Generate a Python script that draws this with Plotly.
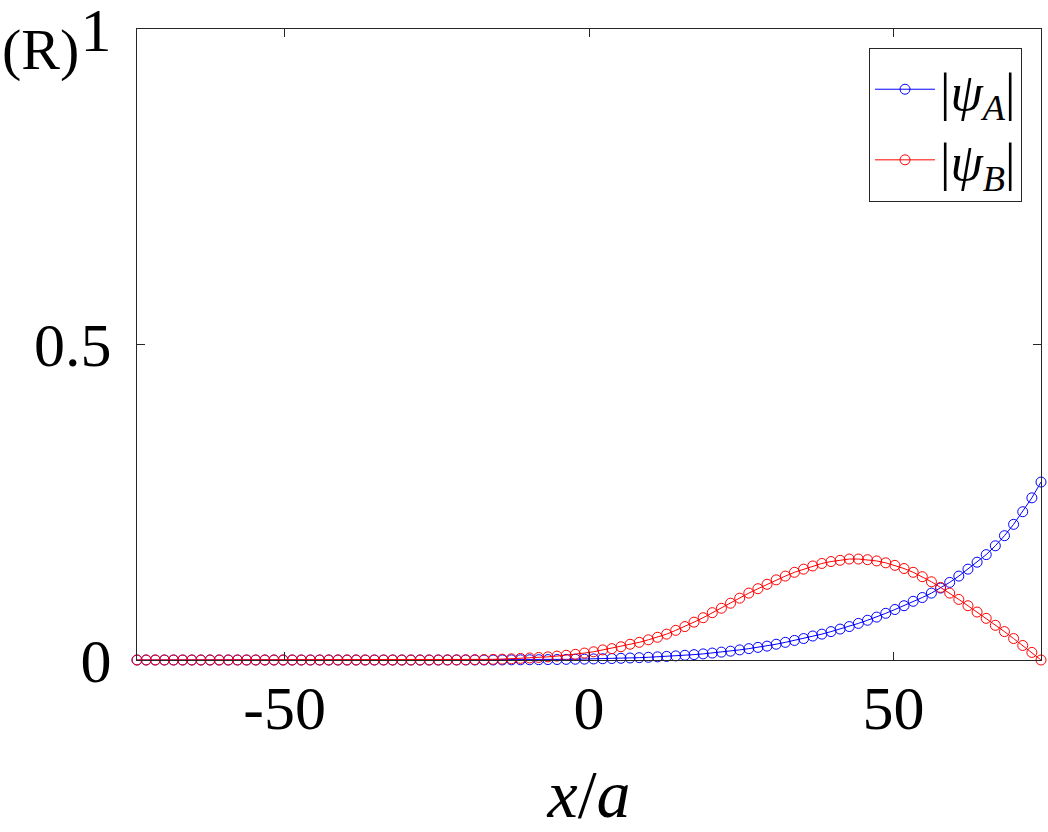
import plotly.graph_objects as go

# lattice positions x/a
x_pos = [-74.25, -72.75, -71.25, -69.75, -68.25, -66.75, -65.25, -63.75, -62.25, -60.75,
         -59.25, -57.75, -56.25, -54.75, -53.25, -51.75, -50.25, -48.75, -47.25, -45.75,
         -44.25, -42.75, -41.25, -39.75, -38.25, -36.75, -35.25, -33.75, -32.25, -30.75,
         -29.25, -27.75, -26.25, -24.75, -23.25, -21.75, -20.25, -18.75, -17.25, -15.75,
         -14.25, -12.75, -11.25, -9.75, -8.25, -6.75, -5.25, -3.75, -2.25, -0.75,
         0.75, 2.25, 3.75, 5.25, 6.75, 8.25, 9.75, 11.25, 12.75, 14.25,
         15.75, 17.25, 18.75, 20.25, 21.75, 23.25, 24.75, 26.25, 27.75, 29.25,
         30.75, 32.25, 33.75, 35.25, 36.75, 38.25, 39.75, 41.25, 42.75, 44.25,
         45.75, 47.25, 48.75, 50.25, 51.75, 53.25, 54.75, 56.25, 57.75, 59.25,
         60.75, 62.25, 63.75, 65.25, 66.75, 68.25, 69.75, 71.25, 72.75, 74.25]

psi_A = [0, 0, 0, 0, 0, 0, 0, 0, 0, 0,
         0, 0, 0, 0, 0, 0, 0, 0, 0, 0,
         0, 0, 0, 0, 0, 0, 0, 0, 0, 0,
         0, 0, 0, 0, 0, 0, 0, 0, 0, 0,
         0.0001, 0.0002, 0.0003, 0.0004, 0.0005, 0.0007, 0.0008, 0.001, 0.0012, 0.0014,
         0.0017, 0.002, 0.0023, 0.0027, 0.0032, 0.0037, 0.0043, 0.005, 0.0057, 0.0065,
         0.0075, 0.0085, 0.0097, 0.011, 0.0125, 0.014, 0.016, 0.018, 0.020, 0.022,
         0.025, 0.028, 0.031, 0.034, 0.038, 0.041, 0.045, 0.049, 0.053, 0.058,
         0.063, 0.068, 0.074, 0.080, 0.086, 0.093, 0.099, 0.106, 0.114, 0.123,
         0.133, 0.144, 0.155, 0.167, 0.181, 0.197, 0.215, 0.235, 0.257, 0.282]

psi_B = [0, 0, 0, 0, 0, 0, 0, 0, 0, 0,
         0, 0, 0, 0, 0, 0, 0, 0, 0, 0,
         0, 0, 0, 0, 0, 0, 0, 0, 0, 0,
         0, 0, 0, 0, 0.0001, 0.0002, 0.0003, 0.0005, 0.0007, 0.001,
         0.0014, 0.0019, 0.0025, 0.0032, 0.004, 0.005, 0.0062, 0.0075, 0.009, 0.011,
         0.013, 0.016, 0.018, 0.021, 0.025, 0.028, 0.032, 0.036, 0.041, 0.047,
         0.053, 0.060, 0.067, 0.075, 0.082, 0.090, 0.098, 0.106, 0.113, 0.120,
         0.127, 0.133, 0.139, 0.144, 0.149, 0.153, 0.156, 0.158, 0.160, 0.160,
         0.159, 0.157, 0.154, 0.150, 0.145, 0.139, 0.132, 0.124, 0.115, 0.106,
         0.096, 0.086, 0.076, 0.066, 0.055, 0.045, 0.034, 0.023, 0.012, 0.0]

x_ticks = [-50, 0, 50]
x_tick_labels = ["-50", "0", "50"]
y_ticks = [0, 0.5, 1]
y_tick_labels = ["0", "0.5", "1"]

SERIF = "Liberation Serif"
AX = "#262626"

fig = go.Figure()
fig.add_trace(go.Scatter(
    x=x_pos, y=psi_A, mode="lines+markers",
    name="|<i>ψ</i><sub><i>A</i></sub>|",
    line=dict(color="#0000FF", width=1),
    marker=dict(symbol="circle-open", size=10, color="#0000FF", line=dict(width=1)),
    cliponaxis=False,
))
fig.add_trace(go.Scatter(
    x=x_pos, y=psi_B, mode="lines+markers",
    name="|<i>ψ</i><sub><i>B</i></sub>|",
    line=dict(color="#FF0000", width=1),
    marker=dict(symbol="circle-open", size=10, color="#FF0000", line=dict(width=1)),
    cliponaxis=False,
))

fig.update_layout(
    width=1048, height=832,
    margin=dict(l=137, r=7, t=29, b=172, autoexpand=False),
    paper_bgcolor="white", plot_bgcolor="white",
    font=dict(family=SERIF, color="black"),
    showlegend=True,
    legend=dict(
        x=0.979, y=0.97, xanchor="right", yanchor="top",
        bgcolor="white", bordercolor=AX, borderwidth=1,
        font=dict(family=SERIF, size=52, color="black"),
        itemwidth=60,
        tracegroupgap=0,
    ),
    xaxis=dict(
        range=[-74.25, 74.25], tickmode="array", tickvals=x_ticks, ticktext=x_tick_labels,
        ticks="inside", ticklen=8, tickcolor=AX, showline=True, linecolor=AX, linewidth=1,
        mirror="ticks", showgrid=False, zeroline=False, automargin=False,
        tickfont=dict(family=SERIF, size=62, color="black"),
        ticklabelstandoff=-6,
        title=dict(text="<i>x</i>/<i>a</i>", font=dict(family=SERIF, size=68, color="black"),
                   standoff=34),
    ),
    yaxis=dict(
        range=[0, 1], tickmode="array", tickvals=y_ticks, ticktext=y_tick_labels,
        ticks="inside", ticklen=8, tickcolor=AX, showline=True, linecolor=AX, linewidth=1,
        mirror="ticks", showgrid=False, zeroline=False, automargin=False,
        tickfont=dict(family=SERIF, size=62, color="black"),
        ticklabelstandoff=12, ticklabeloverflow="allow",
    ),
    annotations=[dict(
        text="(R)", xref="paper", yref="paper", x=-0.152, y=0.967,
        xanchor="left", yanchor="middle", showarrow=False,
        font=dict(family=SERIF, size=58, color="black"),
    )],
)

fig.write_html("out.html")
